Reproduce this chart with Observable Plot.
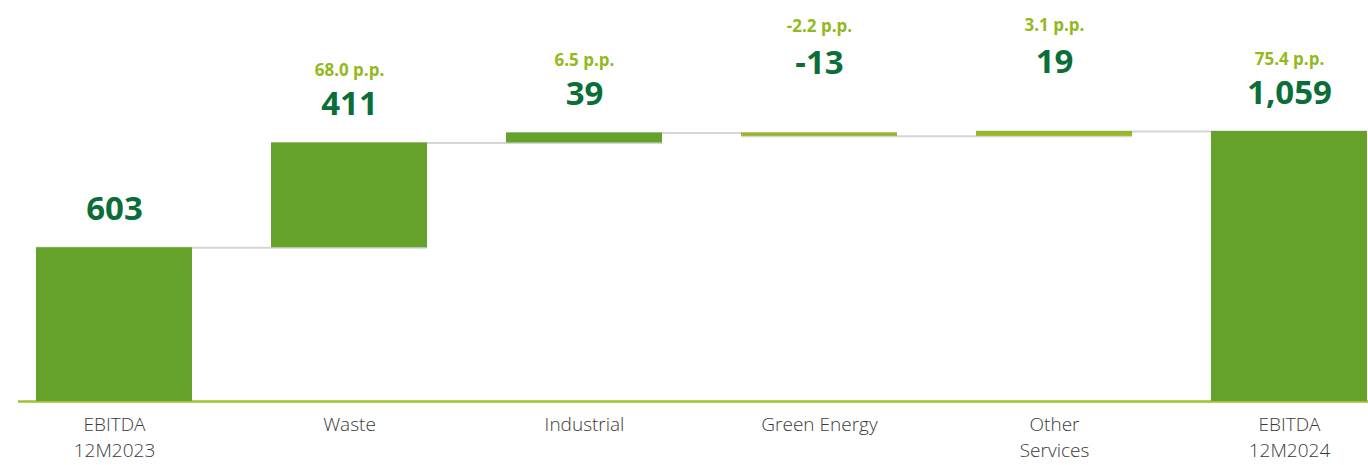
<!DOCTYPE html>
<html>
<head>
<meta charset="utf-8">
<script src="https://cdn.jsdelivr.net/npm/d3@7"></script>
<script src="https://cdn.jsdelivr.net/npm/@observablehq/plot@0.6"></script>
<style>
  html, body { margin: 0; padding: 0; background: #fff; }
  #chart svg { display: block; }
</style>
</head>
<body>
<div id="chart"></div>
<script>
// ---- data ----
const categories = ["EBITDA\n12M2023", "Waste", "Industrial", "Green Energy", "Other\nServices", "EBITDA\n12M2024"];
const values = [603, 411, 39, -13, 19, 1059];
const kinds = ["total", "delta", "delta", "delta", "delta", "total"];
const ppLabels = [null, "68.0 p.p.", "6.5 p.p.", "-2.2 p.p.", "3.1 p.p.", "75.4 p.p."];

// ---- build waterfall table ----
let running = 0;
const rows = categories.map((c, i) => {
  let start, end;
  if (kinds[i] === "total") { start = 0; end = values[i]; }
  else { start = running; end = running + values[i]; }
  running = end;
  return {cat: c, value: values[i], start, end, top: Math.max(start, end), pp: ppLabels[i], thin: Math.abs(values[i]) < 20};
});
const connectors = rows.slice(0, -1).map((r, i) => ({x1: r.cat, x2: rows[i + 1].cat, y: r.end}));

const fmt = d3.formatLocale({decimal: ".", thousands: ",", grouping: [3], currency: ["", ""], minus: "-"}).format(",");
const dark = "#65a229", light = "#95b823", labelDark = "#0b6e38", labelLight = "#93b921";

const chart = Plot.plot({
  width: 1368,
  height: 465,
  marginLeft: 35,
  marginRight: 0,
  marginTop: 131,
  marginBottom: 64,
  style: {fontFamily: "'Open Sans', sans-serif", background: "#fff"},
  x: {domain: categories, paddingInner: 0.337, paddingOuter: 0, label: null},
  y: {domain: [0, d3.max(rows, d => d.top)], axis: null},
  marks: [
    Plot.ruleY([0], {stroke: "#9dc22b", strokeWidth: 2.5, insetLeft: -17}),
    Plot.ruleY(connectors, {x1: "x1", x2: "x2", y: "y", stroke: "#d6d6d6", strokeWidth: 2}),
    Plot.barY(rows, {x: "cat", y1: "start", y2: "end", fill: d => d.thin ? light : dark}),
    Plot.text(rows.filter(d => !d.thin), {x: "cat", y: "top", text: d => fmt(d.value), dy: -28, lineAnchor: "bottom", fontSize: 33, fontWeight: "bold", fill: labelDark}),
    Plot.text(rows.filter(d => d.thin), {x: "cat", y: "top", text: d => fmt(d.value), dy: -59, lineAnchor: "bottom", fontSize: 33, fontWeight: "bold", fill: labelDark}),
    Plot.text(rows.filter(d => d.pp && !d.thin), {x: "cat", y: "top", text: "pp", dy: -67, lineAnchor: "bottom", fontSize: 17, fontWeight: "bold", fill: labelLight}),
    Plot.text(rows.filter(d => d.pp && d.thin), {x: "cat", y: "top", text: "pp", dy: -101, lineAnchor: "bottom", fontSize: 17, fontWeight: "bold", fill: labelLight}),
    Plot.axisX({tickSize: 0, tickPadding: 11, fontSize: 19, fontWeight: 300, color: "#3a3a3a", lineHeight: 1.38, label: null})
  ]
});
document.getElementById("chart").appendChild(chart);
</script>
</body>
</html>
